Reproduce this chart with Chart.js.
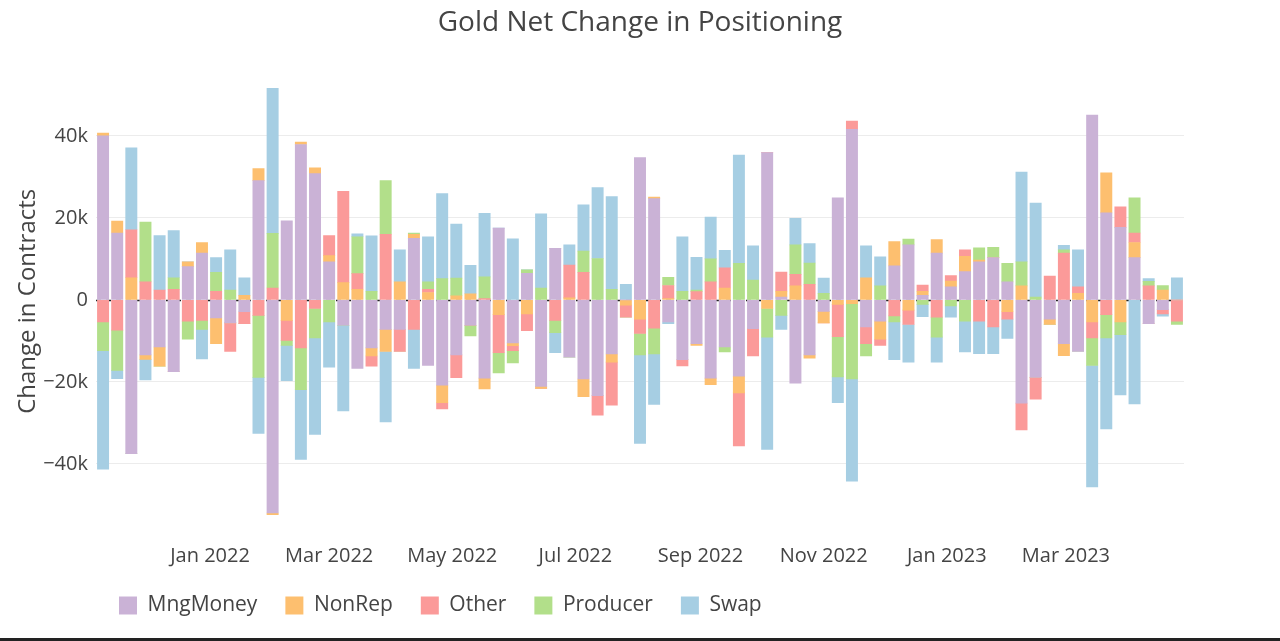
<!DOCTYPE html>
<html><head><meta charset="utf-8">
<script src="https://cdn.jsdelivr.net/npm/chart.js@4/dist/chart.umd.min.js"></script>
<style>
html,body{margin:0;padding:0;background:#fff;overflow:hidden;}
#wrap{position:relative;width:1280px;height:638px;}
#edge{width:1280px;height:3px;background:#222;}
</style></head><body>
<div id="wrap"><canvas id="c"></canvas></div><div id="edge"></div>
<script>
// Report dates (weekly COT, Tuesdays)
const dates = [
 '2021-11-09','2021-11-16','2021-11-23','2021-11-30','2021-12-07','2021-12-14','2021-12-21','2021-12-28',
 '2022-01-04','2022-01-11','2022-01-18','2022-01-25','2022-02-01','2022-02-08','2022-02-15','2022-02-22',
 '2022-03-01','2022-03-08','2022-03-15','2022-03-22','2022-03-29','2022-04-05','2022-04-12','2022-04-19',
 '2022-04-26','2022-05-03','2022-05-10','2022-05-17','2022-05-24','2022-05-31','2022-06-07','2022-06-14',
 '2022-06-21','2022-06-28','2022-07-05','2022-07-12','2022-07-19','2022-07-26','2022-08-02','2022-08-09',
 '2022-08-16','2022-08-23','2022-08-30','2022-09-06','2022-09-13','2022-09-20','2022-09-27','2022-10-04',
 '2022-10-11','2022-10-18','2022-10-25','2022-11-01','2022-11-08','2022-11-15','2022-11-22','2022-11-29',
 '2022-12-06','2022-12-13','2022-12-20','2022-12-27','2023-01-03','2023-01-10','2023-01-17','2023-01-24',
 '2023-01-31','2023-02-07','2023-02-14','2023-02-21','2023-02-28','2023-03-07','2023-03-14','2023-03-21',
 '2023-03-28','2023-04-04','2023-04-11','2023-04-18','2023-04-25'
];
// Values in thousands of contracts
const mngMoney = [40,16.3,-37.5,-13.4,-11.5,-17.5,8.1,11.4,
 -4.4,-5.6,-2.9,29.1,-52,19.3,37.9,30.8,
 9.3,-6.2,-16.7,-11.7,-7.2,-7.2,15,-16,
 -20.8,-13.4,-6.2,-19.1,17.5,-10.5,6.5,-21.1,
 12.6,-14,-19.3,-23.4,-13.2,0,34.7,24.7,
 -5.4,-14.6,-10.7,-19.1,-11.5,-18.6,-7,35.9,
 0.7,-20.3,-13.4,-2.8,24.9,41.6,-6.6,-5.2,
 8.3,13.4,1.1,11.4,3.2,6.9,9.3,10.3,
 4.4,-25.2,-18.9,-4.7,-10.7,-12.6,45.1,21.2,
 17.7,10.3,-5.8,-2.4,0];
const nonRep = [0.7,2.9,5.4,-1.1,-4.7,0,1.2,2.6,
 -6.3,0,1.1,2.9,-0.4,-5,0.6,1.4,
 1.5,4.2,2.6,-2,-5.4,4.4,1,1.8,
 -4.3,1,1.5,-2.6,-3.6,-0.7,-3.4,-0.5,
 0,0.5,-4.3,0,-2,-1.3,-4.7,0.4,
 0.3,0,-0.4,-1.6,2.9,-4.1,0,-2.1,
 1.4,3.4,-0.8,-2.8,-1.1,-0.9,5.4,-4.4,
 5.9,-2.5,1,3.3,1.4,3.7,0.4,0,
 -2.9,3.4,0,-1.3,-2.9,1.6,-5.4,9.8,
 -5.4,3.7,0,2.4,0];
const other = [-5.4,-7.4,11.7,4.4,2.4,2.6,-5.2,-5,
 2.1,-7,-2.9,-3.8,2.9,-4.9,-11.7,-2.1,
 4.9,22.3,3.8,-2.5,16,-5.4,-7.2,0.8,
 -1.5,-5.6,0,0.3,-9.3,-1.2,-4.1,0,
 -5,8,6.7,-4.7,-10.5,-2.9,-3.5,-6.9,
 3.2,-1.5,2,4.4,4.9,-12.9,-6.7,0,
 4.7,2.8,3.8,0,-7.9,2,-4.1,-1.5,
 -3.9,-3.5,1.5,-4.2,1.3,1.6,-5.2,-6.6,
 -1.8,-6.5,-5.3,5.8,11.4,1.6,-3.9,-3.6,
 5,2.3,3.4,-1,-5.2];
const producer = [-7,-9.8,0,14.6,0,2.8,-4.4,-2.2,
 4.6,2.4,0,-15.1,13.3,-1.2,-10.2,-7.2,
 -5.4,0,9,2.1,13.1,0,0.3,1.8,
 5.2,4.3,-2.6,5.3,-4.9,-3,0.8,2.9,
 -3,0,5.2,10.1,2.6,0,-5.2,-6.3,
 2,2.1,0.4,5.6,-1.2,8.9,4.8,-7,
 -3.8,7.2,5.2,1.6,-9.8,-18.4,-3,3.4,
 -1.5,1.4,-1.1,-4.9,-1.5,-5.2,3,2.5,
 4.5,5.9,0.7,0,0.8,0,-6.7,-5.7,
 -3.1,8.6,1.1,1.1,-0.8];
const swap = [-28.9,-2,20,-5,13.3,11.5,0,-7.2,
 3.6,9.8,4.3,-13.7,35.4,-8.6,-17,-23.5,
 -11,-20.9,0.7,13.5,-17.2,7.8,-9.5,11,
 20.7,13.2,6.9,15.5,0,14.9,0,18.1,
 -4.9,4.9,11.3,17.3,22.6,3.8,-21.6,-12.3,
 -0.4,13.3,8,10.2,4.3,26.4,8.4,-27.4,
 -3.4,6.5,4.7,3.7,-6.3,-24.9,7.8,7.1,
 -9.2,-9.2,-3,-6.1,-2.7,-7.5,-7.9,-6.5,
 -4.7,21.9,22.9,0,1.1,9,-29.6,-22.2,
 -14.7,-25.4,0.7,-0.6,5.4];
const seriesNames = ['MngMoney','NonRep','Other','Producer','Swap'];
const seriesColors = ['#cab2d6','#fdbf6f','#fb9a99','#b2df8a','#a6cee3'];
const tickDates = ['2022-01-01','2022-03-01','2022-05-01','2022-07-01','2022-09-01','2022-11-01','2023-01-01','2023-03-01'];
const tickLabels = ['Jan 2022','Mar 2022','May 2022','Jul 2022','Sep 2022','Nov 2022','Jan 2023','Mar 2023'];
const yTicks = [-40,-20,0,20,40];

const dayOf = s => Date.UTC(+s.slice(0,4), +s.slice(5,7)-1, +s.slice(8,10)) / 86400000;
const xs = dates.map(dayOf);
const allSeries = [mngMoney, nonRep, other, producer, swap];

const datasets = allSeries.map((vals, i) => ({
  label: seriesNames[i],
  data: vals.map((v, j) => ({x: xs[j], y: v})),
  backgroundColor: seriesColors[i],
  borderWidth: 0,
  barThickness: 11.3
}));

const zeroLine = {
  id: 'zeroLine',
  beforeDatasetsDraw(chart) {
    const {ctx, chartArea: a, scales: {y}} = chart;
    const yy = Math.round(y.getPixelForValue(0)) + 0.5;
    ctx.save();
    ctx.strokeStyle = '#222';
    ctx.lineWidth = 1.5;
    ctx.setLineDash([5, 5]);
    ctx.beginPath();
    ctx.moveTo(a.left, yy);
    ctx.lineTo(a.right, yy);
    ctx.stroke();
    ctx.restore();
  }
};
const legendShift = {
  id: 'legendShift',
  afterLayout(chart) {
    if (chart.legend) { chart.legend.left -= 5; chart.legend.right -= 5; }
  }
};

const FONT = '"Open Sans", "Noto Sans", sans-serif';
new Chart(document.getElementById('c'), {
  type: 'bar',
  data: {datasets},
  plugins: [zeroLine, legendShift],
  options: {
    responsive: true,
    maintainAspectRatio: false,
    animation: false,
    layout: {padding: {left: 0, right: 0, top: 0, bottom: 12}},
    plugins: {
      title: {
        display: true,
        text: 'Gold Net Change in Positioning',
        color: '#444',
        font: {family: FONT, size: 28, weight: 'normal'},
        padding: {top: 6, bottom: 27}
      },
      legend: {
        position: 'bottom',
        align: 'start',
        fullSize: false,
        labels: {
          color: '#444',
          font: {family: FONT, size: 21},
          boxWidth: 18,
          boxHeight: 18,
          padding: 28
        }
      },
      tooltip: {enabled: false}
    },
    scales: {
      x: {
        type: 'linear',
        stacked: true,
        offset: false,
        min: xs[0] - 3.5,
        max: xs[xs.length - 1] + 3.5,
        grid: {display: false},
        border: {display: false},
        afterBuildTicks(scale) {
          scale.ticks = tickDates.map((d, i) => ({value: dayOf(d), label: tickLabels[i]}));
        },
        afterFit(scale) { scale.height = 31; },
        ticks: {
          autoSkip: false,
          maxRotation: 0,
          color: '#444',
          padding: 0,
          font: {family: FONT, size: 20},
          callback(v) { const k = tickDates.findIndex(d => dayOf(d) === v); return k >= 0 ? tickLabels[k] : ''; }
        }
      },
      y: {
        stacked: true,
        min: -57.6,
        max: 56.9,
        border: {display: false},
        grid: {
          color: ctx => ctx.tick && ctx.tick.value === 0 ? 'rgba(0,0,0,0)' : '#ececec',
          lineWidth: 1,
          drawTicks: false
        },
        afterBuildTicks(scale) { scale.ticks = yTicks.map(v => ({value: v})); },
        afterFit(scale) { scale.width = 96; },
        ticks: {
          color: '#444',
          padding: 8,
          font: {family: FONT, size: 20},
          callback: v => v === 0 ? '0' : (v < 0 ? '\u2212' + Math.abs(v) : v) + 'k'
        },
        title: {
          display: true,
          text: 'Change in Contracts',
          color: '#444',
          font: {family: FONT, size: 24},
          padding: {top: 14, bottom: 0}
        }
      },
      yRight: {
        position: 'right',
        display: true,
        grid: {display: false},
        border: {display: false},
        ticks: {display: false},
        afterFit(scale) { scale.width = 96; }
      }
    }
  }
});
</script>
</body></html>
